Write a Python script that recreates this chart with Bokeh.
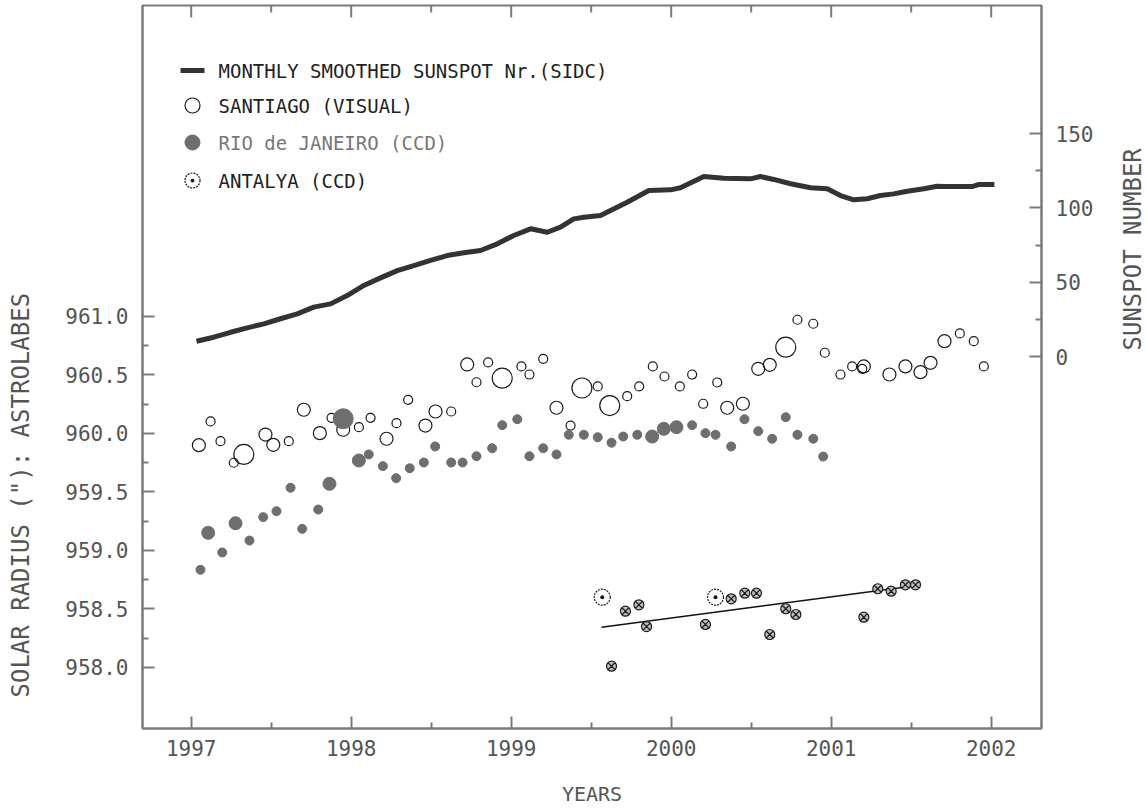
import numpy as np
from bokeh.plotting import figure
from bokeh.layouts import row
from bokeh.models import (Range1d, LinearAxis, FixedTicker, NumeralTickFormatter,
                          Label, ColumnDataSource)
from bokeh.embed import file_html
from bokeh.resources import INLINE

# ---------------- data ----------------
sunspot_year = [1997.033, 1997.141, 1997.246, 1997.350, 1997.454, 1997.558, 1997.663,
                1997.766, 1997.871, 1997.975, 1998.079, 1998.183, 1998.288, 1998.391,
                1998.496, 1998.600, 1998.704, 1998.808, 1998.913, 1999.016, 1999.121,
                1999.225, 1999.308, 1999.391, 1999.454, 1999.558, 1999.621, 1999.725,
                1999.860, 1999.996, 2000.058, 2000.204, 2000.329, 2000.496, 2000.558,
                2000.641, 2000.746, 2000.871, 2000.975, 2001.058, 2001.141, 2001.225,
                2001.308, 2001.391, 2001.475, 2001.579, 2001.663, 2001.710, 2001.880,
                2001.920, 2002.020]
sunspot_value = [10.3, 13.0, 16.3, 19.3, 22.0, 25.4, 28.7, 33.2, 35.4, 41.0, 47.8, 52.9,
                 57.8, 61.2, 64.6, 67.9, 69.8, 71.3, 75.8, 81.4, 85.9, 83.6, 87.0, 92.6,
                 93.7, 94.8, 98.2, 103.8, 111.7, 112.1, 113.5, 121.1, 119.9, 119.5, 121.1,
                 119.1, 116.2, 113.5, 112.8, 108.3, 105.4, 106.1, 108.3, 109.4, 111.2,
                 112.8, 114.5, 114.3, 114.3, 115.7, 115.7]

# weight: 1 = few observations (small), 2 = medium, 3 = many (large)
santiago_year = [1997.048, 1997.121, 1997.183, 1997.329, 1997.266, 1997.464, 1997.513,
                 1997.610, 1997.704, 1997.804, 1997.877, 1997.950, 1998.048, 1998.121,
                 1998.221, 1998.283, 1998.356, 1998.464, 1998.527, 1998.625, 1998.725,
                 1998.783, 1998.856, 1998.944, 1999.064, 1999.114, 1999.200, 1999.283,
                 1999.371, 1999.442, 1999.541, 1999.616, 1999.725, 1999.800, 1999.885,
                 1999.958, 2000.054, 2000.131, 2000.200, 2000.288, 2000.350, 2000.448,
                 2000.544, 2000.616, 2000.716, 2000.789, 2000.888, 2000.960, 2001.058,
                 2001.131, 2001.204, 2001.194, 2001.364, 2001.464, 2001.558, 2001.621,
                 2001.708, 2001.804, 2001.891, 2001.954]
santiago_radius = [959.900, 960.103, 959.934, 959.821, 959.750, 959.991, 959.903, 959.934,
                   960.203, 960.003, 960.134, 960.032, 960.054, 960.134, 959.955, 960.088,
                   960.288, 960.068, 960.188, 960.188, 960.590, 960.438, 960.607, 960.473,
                   960.573, 960.504, 960.638, 960.220, 960.068, 960.389, 960.402, 960.239,
                   960.319, 960.402, 960.573, 960.487, 960.402, 960.504, 960.254, 960.436,
                   960.220, 960.254, 960.553, 960.587, 960.738, 960.972, 960.938, 960.690,
                   960.504, 960.573, 960.573, 960.553, 960.504, 960.573, 960.524, 960.604,
                   960.789, 960.855, 960.789, 960.573]
santiago_weight = [2, 1, 1, 3, 1, 2, 2, 1, 2, 2, 1, 2, 1, 1, 2, 1, 1, 2, 2, 1, 2, 1, 1, 3,
                   1, 1, 1, 2, 1, 3, 1, 3, 1, 1, 1, 1, 1, 1, 1, 1, 2, 2, 2, 2, 3, 1, 1, 1,
                   1, 1, 2, 1, 2, 2, 2, 2, 2, 1, 1, 1]

rio_year = [1997.058, 1997.106, 1997.194, 1997.277, 1997.364, 1997.450, 1997.533, 1997.621,
            1997.694, 1997.794, 1997.864, 1997.950, 1998.048, 1998.110, 1998.198, 1998.281,
            1998.366, 1998.454, 1998.525, 1998.625, 1998.696, 1998.783, 1998.881, 1998.944,
            1999.038, 1999.114, 1999.200, 1999.283, 1999.360, 1999.454, 1999.541, 1999.627,
            1999.700, 1999.788, 1999.881, 1999.954, 2000.033, 2000.131, 2000.214, 2000.277,
            2000.375, 2000.458, 2000.544, 2000.631, 2000.716, 2000.789, 2000.888, 2000.950]
rio_radius = [958.835, 959.151, 958.983, 959.233, 959.085, 959.285, 959.336, 959.536,
              959.185, 959.350, 959.570, 960.126, 959.769, 959.821, 959.721, 959.618,
              959.703, 959.752, 959.889, 959.752, 959.752, 959.806, 959.874, 960.071,
              960.122, 959.806, 959.874, 959.821, 959.989, 959.989, 959.968, 959.921,
              959.974, 959.989, 959.974, 960.040, 960.054, 960.071, 960.003, 959.989,
              959.889, 960.122, 960.020, 959.955, 960.139, 959.989, 959.955, 959.803]
rio_weight = [1, 2, 1, 2, 1, 1, 1, 1, 1, 1, 2, 3, 2, 1, 1, 1, 1, 1, 1, 1, 1, 1, 1, 1,
              1, 1, 1, 1, 1, 1, 1, 1, 1, 1, 2, 2, 2, 1, 1, 1, 1, 1, 1, 1, 1, 1, 1, 1]

antalya_year = [1999.569, 1999.627, 1999.714, 1999.798, 1999.846, 2000.214, 2000.277,
                2000.375, 2000.460, 2000.533, 2000.616, 2000.716, 2000.779, 2001.204,
                2001.291, 2001.375, 2001.464, 2001.527]
antalya_radius = [958.601, 958.011, 958.481, 958.536, 958.350, 958.368, 958.601, 958.587,
                  958.635, 958.635, 958.282, 958.502, 958.453, 958.430, 958.673, 958.652,
                  958.707, 958.707]
antalya_weight = [3, 1, 1, 1, 1, 1, 3, 1, 1, 1, 1, 1, 1, 1, 1, 1, 1, 1]

antalya_trend_year = [1999.564, 2001.538]
antalya_trend_radius = [958.344, 958.701]

year_ticks = [1997, 1998, 1999, 2000, 2001, 2002]
radius_ticks = [958.0, 958.5, 959.0, 959.5, 960.0, 960.5, 961.0]
sunspot_ticks = [0, 50, 100, 150]

# ---------------- layout geometry ----------------
W, H = 1146, 809
LEFT_W, RIGHT_W = 40, 36
MAIN_W = W - LEFT_W - RIGHT_W
FL, FR, FT, FB = 142, 1041, 5, 728          # frame edges in window pixels
X0, X1 = 1996.6956, 2002.3144
Y0, Y1 = 957.4786, 963.658
S0, S1 = -250.2, 236.1


def px_x(px):
    return X0 + (px - FL) * (X1 - X0) / (FR - FL)


def px_y(py):
    return Y0 + (FB - py) * (Y1 - Y0) / (FB - FT)


FONT = "DejaVu Sans Mono"
AXIS_COL = "#7a7a7a"
TEXT_COL = "#555555"

p = figure(width=MAIN_W, height=H, output_backend="svg", toolbar_location=None,
           x_range=Range1d(X0, X1), y_range=Range1d(Y0, Y1),
           min_border_left=FL - LEFT_W, min_border_right=LEFT_W + MAIN_W - FR,
           min_border_top=FT, min_border_bottom=H - FB,
           x_axis_location=None, y_axis_location=None)
p.extra_y_ranges = {"sun": Range1d(S0, S1)}
p.grid.visible = False
p.outline_line_color = AXIS_COL
p.outline_line_width = 2
p.background_fill_color = "white"
p.border_fill_color = "white"


def style_axis(ax):
    ax.axis_line_color = AXIS_COL
    ax.axis_line_width = 2
    ax.major_tick_line_color = AXIS_COL
    ax.minor_tick_line_color = AXIS_COL
    ax.major_tick_line_width = 2
    ax.minor_tick_line_width = 2
    ax.major_tick_in = 12
    ax.major_tick_out = 0
    ax.minor_tick_in = 6
    ax.minor_tick_out = 0
    ax.major_label_text_font = FONT
    ax.major_label_text_color = TEXT_COL
    ax.major_label_text_font_size = "21px"
    ax.major_label_standoff = 14


xt = FixedTicker(ticks=year_ticks, minor_ticks=[y + 0.5 for y in year_ticks[:-1]])
bottom = LinearAxis(ticker=xt, formatter=NumeralTickFormatter(format="0"))
style_axis(bottom)
bottom.major_label_standoff = 11
bottom.axis_label = "YEARS"
bottom.axis_label_text_font = FONT
bottom.axis_label_text_font_style = "normal"
bottom.axis_label_text_font_size = "20px"
bottom.axis_label_text_color = TEXT_COL
bottom.axis_label_standoff = 23
p.add_layout(bottom, "below")

yt = FixedTicker(ticks=radius_ticks,
                 minor_ticks=[r + 0.25 for r in radius_ticks[:-1]])
left = LinearAxis(ticker=yt, formatter=NumeralTickFormatter(format="0.0"))
style_axis(left)
p.add_layout(left, "left")

st = FixedTicker(ticks=sunspot_ticks, minor_ticks=[s + 25 for s in sunspot_ticks[:-1]])
right = LinearAxis(y_range_name="sun", ticker=st)
style_axis(right)
p.add_layout(right, "right")

# top-edge ticks (inward), at the same year ticks as the bottom axis
dy_major = 12 * (Y1 - Y0) / (FB - FT)
dy_minor = 7 * (Y1 - Y0) / (FB - FT)
p.segment(x0=year_ticks, y0=[Y1] * len(year_ticks), x1=year_ticks,
          y1=[Y1 - dy_major] * len(year_ticks), line_color=AXIS_COL, line_width=2)
half_years = [y + 0.5 for y in year_ticks[:-1]]
p.segment(x0=half_years, y0=[Y1] * len(half_years), x1=half_years,
          y1=[Y1 - dy_minor] * len(half_years), line_color=AXIS_COL, line_width=2)

# ---------------- glyphs ----------------
p.line(sunspot_year, sunspot_value, y_range_name="sun", line_color="#333333",
       line_width=5, line_join="round")

size_open = {1: 9, 2: 13, 3: 20}
size_fill = {1: 9, 2: 13, 3: 20}

src_s = ColumnDataSource(dict(x=santiago_year, y=santiago_radius,
                              s=[size_open[w] for w in santiago_weight]))
p.scatter("x", "y", size="s", source=src_s, marker="circle",
          fill_color=None, line_color="#1a1a1a", line_width=1.2)

src_r = ColumnDataSource(dict(x=rio_year, y=rio_radius,
                              s=[size_fill[w] for w in rio_weight]))
p.scatter("x", "y", size="s", source=src_r, marker="circle",
          fill_color="#6e6e6e", line_color="#6e6e6e", line_width=1)

p.line(antalya_trend_year, antalya_trend_radius, line_color="#111111", line_width=1.6)

a_small = [i for i, w in enumerate(antalya_weight) if w == 1]
a_big = [i for i, w in enumerate(antalya_weight) if w == 3]
p.scatter([antalya_year[i] for i in a_small], [antalya_radius[i] for i in a_small],
          marker="circle_x", size=10, fill_color="#bdbdbd", line_color="#1a1a1a",
          line_width=1.2)
p.scatter([antalya_year[i] for i in a_big], [antalya_radius[i] for i in a_big],
          marker="circle_dot", size=16, fill_color=None, line_color="#1a1a1a",
          line_width=1.2, line_dash="2 1")

# ---------------- legend (drawn manually) ----------------
lx = px_x(192)
p.line([px_x(180), px_x(204)], [px_y(70), px_y(70)], line_color="#333333", line_width=5)
p.scatter([lx], [px_y(105)], marker="circle", size=15, fill_color=None,
          line_color="#1a1a1a", line_width=1.2)
p.scatter([lx], [px_y(142)], marker="circle", size=15, fill_color="#6e6e6e",
          line_color="#6e6e6e")
p.scatter([lx], [px_y(180)], marker="circle_dot", size=15, fill_color=None,
          line_color="#1a1a1a", line_width=1.2, line_dash="2 1")

legend_items = [("MONTHLY SMOOTHED SUNSPOT Nr.(SIDC)", 70, "#222222"),
                ("SANTIAGO (VISUAL)", 105, "#222222"),
                ("RIO de JANEIRO (CCD)", 142, "#777777"),
                ("ANTALYA (CCD)", 180, "#222222")]
for txt, py, col in legend_items:
    p.add_layout(Label(x=px_x(218), y=px_y(py), text=txt, text_font=FONT,
                       text_font_size="19px", text_color=col,
                       text_align="left", text_baseline="middle"))


# ---------------- side strips carrying the vertical axis titles ----------------
# In a row the strips' frames are aligned with the main frame (FT..FB), so the
# y range is chosen so that a data value of (H - py) lands on window row py.
def side_strip(width, text, cx, bottom_py):
    f = figure(width=width, height=H, output_backend="svg", toolbar_location=None,
               x_range=Range1d(0, width), y_range=Range1d(H - FB, H - FT),
               min_border=0, x_axis_location=None, y_axis_location=None,
               outline_line_color=None)
    f.grid.visible = False
    f.background_fill_color = "white"
    f.border_fill_color = "white"
    # text runs upward from its start point (bottom end of the text)
    f.add_layout(Label(x=cx, y=H - bottom_py, text=text, angle=np.pi / 2,
                       text_font=FONT, text_font_size="24px", text_color=TEXT_COL,
                       text_align="left", text_baseline="middle"))
    return f


left_strip = side_strip(LEFT_W, 'SOLAR RADIUS ("): ASTROLABES', 20, 697)
right_strip = side_strip(RIGHT_W, "SUNSPOT NUMBER", 1132 - (W - RIGHT_W), 350)

layout = row(left_strip, p, right_strip, spacing=0)
open("out.html", "w").write(file_html(layout, INLINE))
